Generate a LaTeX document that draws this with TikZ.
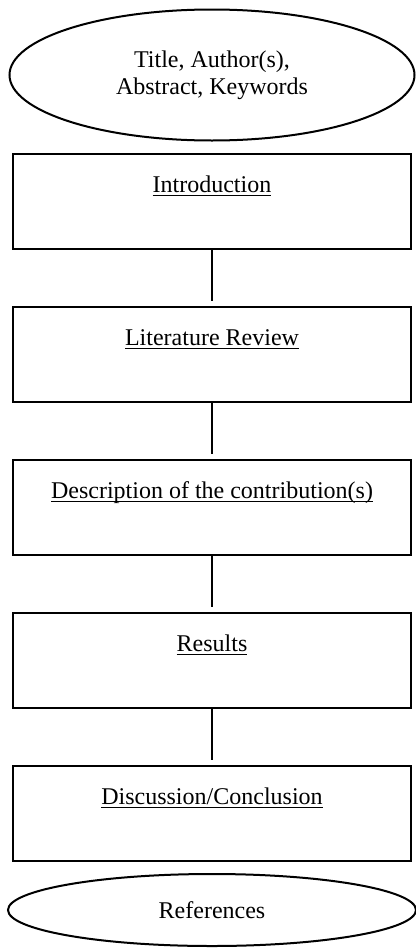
\documentclass[tikz,border=0pt]{standalone}
\usepackage{fontspec}
\setmainfont{Liberation Serif}
\usetikzlibrary{shapes.geometric}
\newcommand{\uword}[1]{\underline{\smash{#1}}}

\begin{document}
\begin{tikzpicture}[shorten >=2.5pt,line width=1pt,node distance=76.5pt,
        font=\fontsize{12}{13.5}\selectfont,
        oval/.style={draw,ellipse,inner sep=0pt,align=center},
        part/.style={draw,rectangle,minimum width=199pt,minimum height=47.5pt,inner sep=0pt,align=center}]
        \useasboundingbox (0,0) rectangle (208pt,-474pt);
        \node[oval,minimum width=202.5pt,minimum height=65.5pt] (title) at (106pt,-37.5pt) {Title, Author(s),\\Abstract, Keywords};
        
        \node[part]   (intro)   [below of=title,node distance=63pt]  {\strut\uword{Introduction}\\\strut};
        \node[part]   (litrev)  [below of=intro]   {\strut\uword{Literature Review}\\\strut};
        \node[part]   (contrib) [below of=litrev]  {\strut\uword{Description of the contribution(s)}\\\strut};
        \node[part]   (results) [below of=contrib] {\strut\uword{Results}\\\strut};
        \node[part]   (discuss) [below of=results] {\strut\uword{Discussion/Conclusion}\\\strut};
        
        \node[oval,minimum width=204pt,minimum height=36pt] (refs) [below of=discuss,node distance=48.5pt] {References};
        \path
                (intro) edge (litrev)
                (litrev) edge (contrib)
                (contrib) edge (results)
                (results) edge (discuss)
                ;
\end{tikzpicture}
\end{document}
